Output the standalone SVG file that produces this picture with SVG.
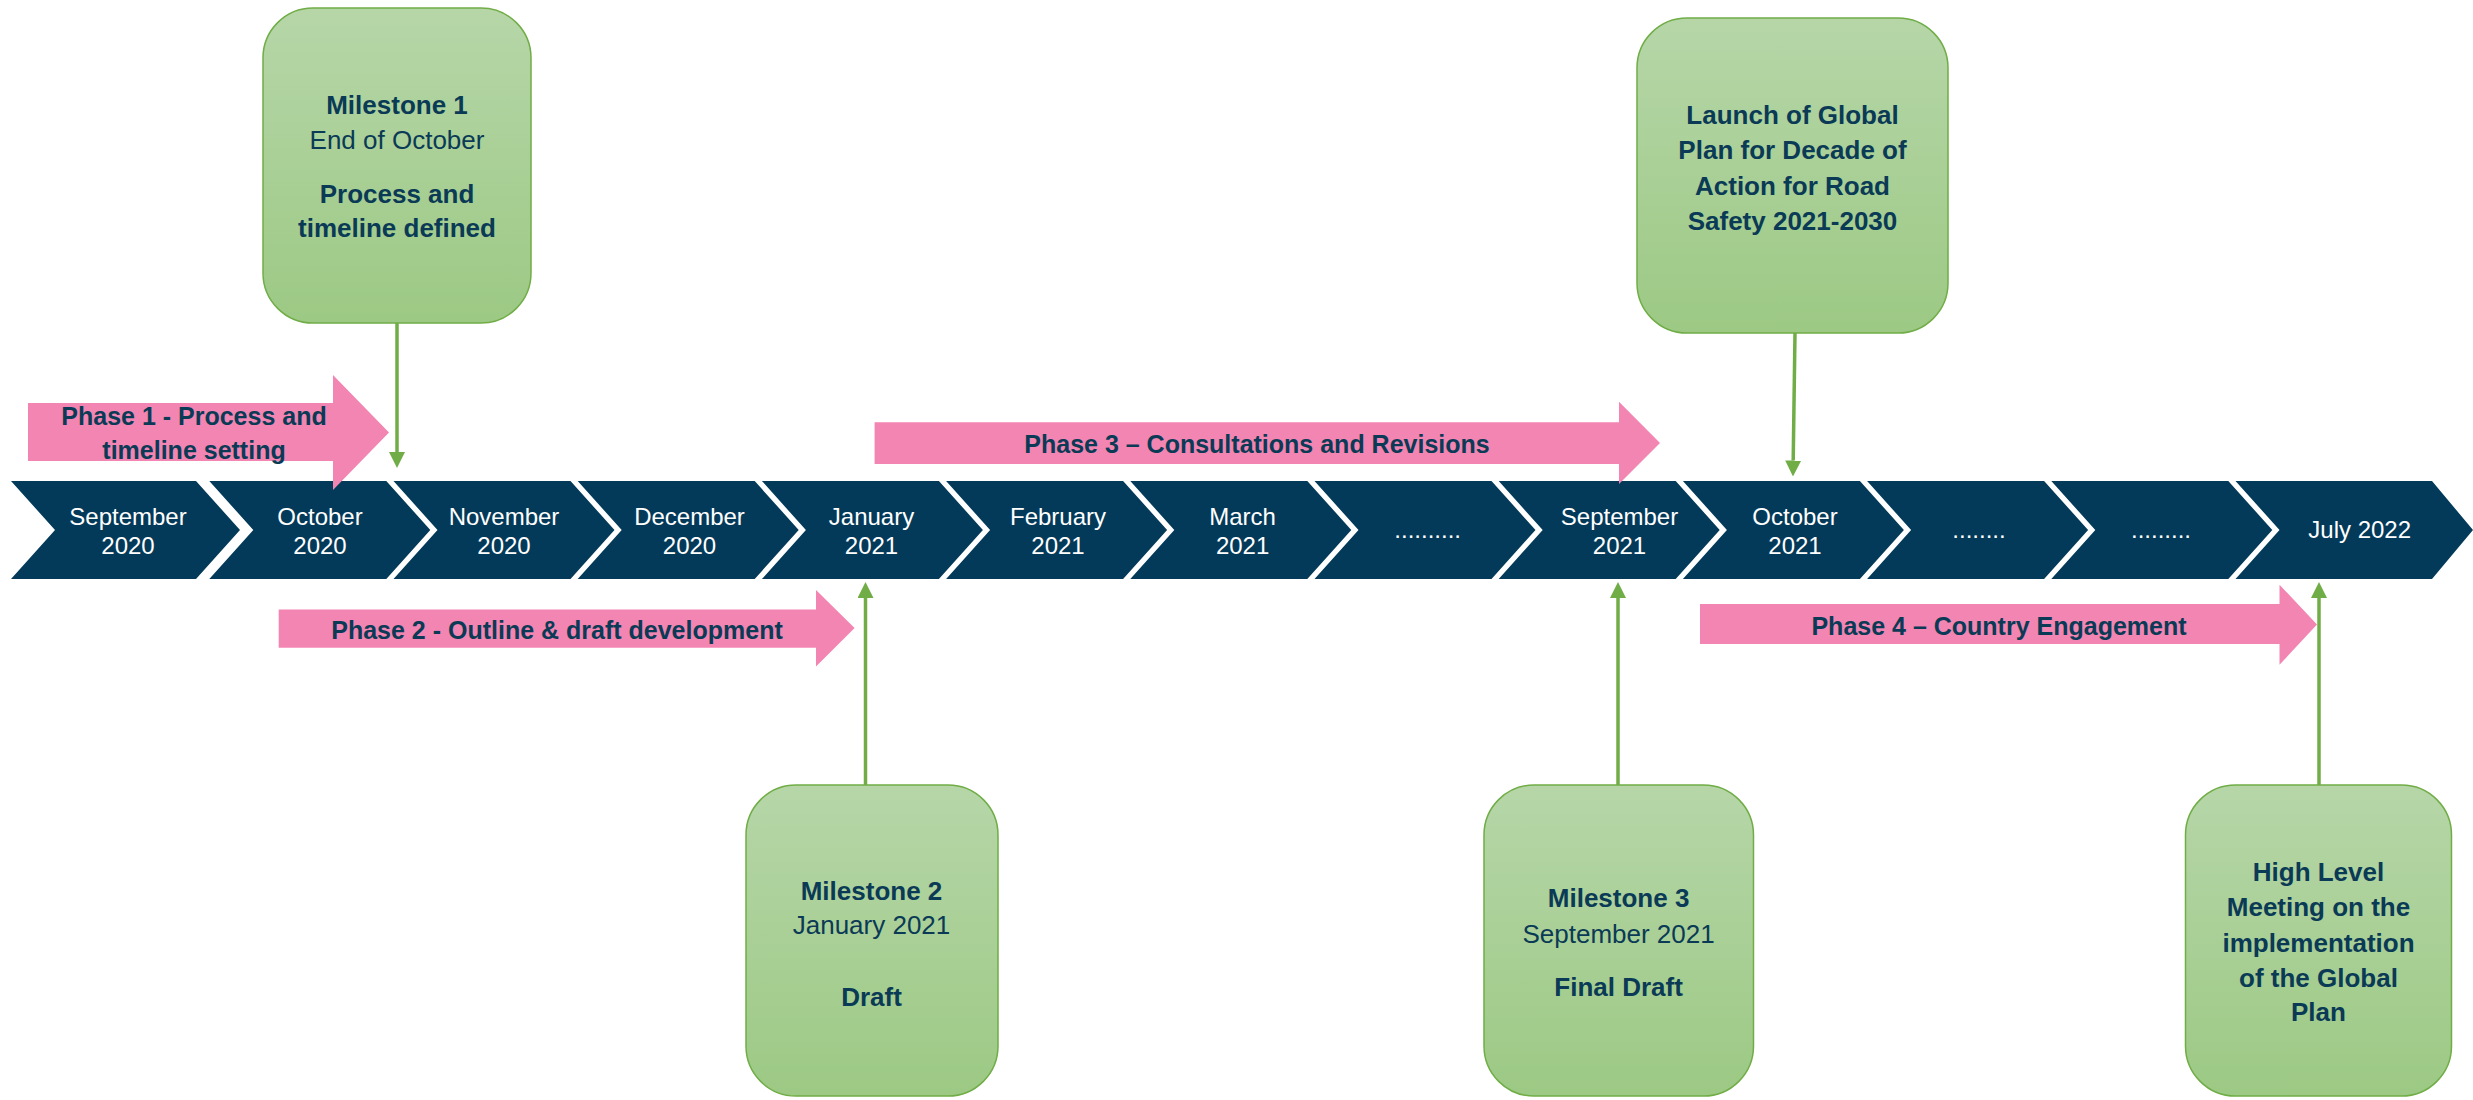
<svg xmlns="http://www.w3.org/2000/svg" width="2473" height="1100" viewBox="0 0 2473 1100">
<style>
.chev{fill:#033A59}
.mt{font-family:"Liberation Sans",Arial,sans-serif;font-size:24px;fill:#ffffff;text-anchor:middle}
.ph{fill:#F385B2}
.pt{font-family:"Liberation Sans",Arial,sans-serif;font-size:25px;font-weight:bold;fill:#0A3A55;text-anchor:middle}
.box{fill:url(#gg);stroke:#70AD47;stroke-width:1.5}
.bt{font-family:"Liberation Sans",Arial,sans-serif;font-size:26px;fill:#0A3A55;text-anchor:middle}
.b{font-weight:bold}
.con{stroke:#70AD47;stroke-width:3.5;fill:none;marker-end:url(#ah)}
</style>
<defs>
<linearGradient id="gg" x1="0" y1="0" x2="0" y2="1">
<stop offset="0" stop-color="#B6D6A8"/>
<stop offset="1" stop-color="#9CC984"/>
</linearGradient>
<marker id="ah" markerUnits="userSpaceOnUse" markerWidth="16" markerHeight="16" refX="0" refY="8" orient="auto">
<path d="M0,0 L16,8 L0,16 Z" fill="#70AD47"/>
</marker>
</defs>
<rect width="2473" height="1100" fill="#ffffff"/>

<g id="timeline">
<g id="m01"><polygon class="chev" points="11,481 196,481 240,530 196,579 11,579 55,530"/><text class="mt" x="128" y="525">September</text><text class="mt" x="128" y="554">2020</text></g>
<g id="m02"><polygon class="chev" points="209.3,481 386.3,481 430.3,530 386.3,579 209.3,579 253.3,530"/><text class="mt" x="320" y="525">October</text><text class="mt" x="320" y="554">2020</text></g>
<g id="m03"><polygon class="chev" points="393.5,481 570.5,481 614.5,530 570.5,579 393.5,579 437.5,530"/><text class="mt" x="504" y="525">November</text><text class="mt" x="504" y="554">2020</text></g>
<g id="m04"><polygon class="chev" points="577.7,481 754.7,481 798.7,530 754.7,579 577.7,579 621.7,530"/><text class="mt" x="689.5" y="525">December</text><text class="mt" x="689.5" y="554">2020</text></g>
<g id="m05"><polygon class="chev" points="761.9,481 938.9,481 982.9,530 938.9,579 761.9,579 805.9,530"/><text class="mt" x="871.5" y="525">January</text><text class="mt" x="871.5" y="554">2021</text></g>
<g id="m06"><polygon class="chev" points="946.1,481 1123.1,481 1167.1,530 1123.1,579 946.1,579 990.1,530"/><text class="mt" x="1058" y="525">February</text><text class="mt" x="1058" y="554">2021</text></g>
<g id="m07"><polygon class="chev" points="1130.3,481 1307.3,481 1351.3,530 1307.3,579 1130.3,579 1174.3,530"/><text class="mt" x="1242.6" y="525">March</text><text class="mt" x="1242.6" y="554">2021</text></g>
<g id="m08"><polygon class="chev" points="1314.5,481 1491.5,481 1535.5,530 1491.5,579 1314.5,579 1358.5,530"/><text class="mt" x="1427.7" y="538">..........</text></g>
<g id="m09"><polygon class="chev" points="1498.7,481 1675.7,481 1719.7,530 1675.7,579 1498.7,579 1542.7,530"/><text class="mt" x="1619.5" y="525">September</text><text class="mt" x="1619.5" y="554">2021</text></g>
<g id="m10"><polygon class="chev" points="1682.9,481 1859.9,481 1903.9,530 1859.9,579 1682.9,579 1726.9,530"/><text class="mt" x="1795" y="525">October</text><text class="mt" x="1795" y="554">2021</text></g>
<g id="m11"><polygon class="chev" points="1867.1,481 2044.1,481 2088.1,530 2044.1,579 1867.1,579 1911.1,530"/><text class="mt" x="1979" y="538">........</text></g>
<g id="m12"><polygon class="chev" points="2051.3,481 2228.3,481 2272.3,530 2228.3,579 2051.3,579 2095.3,530"/><text class="mt" x="2161" y="538">.........</text></g>
<g id="m13"><polygon class="chev" points="2235.5,481 2432,481 2473,530 2432,579 2235.5,579 2279.5,530"/><text class="mt" x="2359.7" y="538">July 2022</text></g>
</g>

<g id="phase1"><polygon class="ph" points="28,403 333,403 333,375 389,432.5 333,490 333,461 28,461"/><text class="pt" x="194" y="425">Phase 1 - Process and</text><text class="pt" x="194" y="459">timeline setting</text></g>
<g id="phase2"><polygon class="ph" points="278.7,609.6 816,609.6 816,590 854.6,628 816,666.4 816,647.8 278.7,647.8"/><text class="pt" x="557" y="638.6">Phase 2 - Outline &amp; draft development</text></g>
<g id="phase3"><polygon class="ph" points="874.6,422.3 1619,422.3 1619,401.7 1660,443 1619,484 1619,464 874.6,464"/><text class="pt" x="1257" y="453">Phase 3 – Consultations and Revisions</text></g>
<g id="phase4"><polygon class="ph" points="1700,604 2279.5,604 2279.5,584.7 2317,624.5 2279.5,664.8 2279.5,644 1700,644"/><text class="pt" x="1999" y="634.5">Phase 4 – Country Engagement</text></g>

<g id="milestone1"><rect class="box" x="263" y="8" width="268" height="315" rx="50" ry="50"/>
<text class="bt b" x="397" y="114">Milestone 1</text><text class="bt" x="397" y="148.5">End of October</text><text class="bt b" x="397" y="203">Process and</text><text class="bt b" x="397" y="237">timeline defined</text></g>
<g id="launch"><rect class="box" x="1637" y="18" width="311" height="315" rx="50" ry="50"/>
<text class="bt b" x="1792.5" y="124.4">Launch of Global</text><text class="bt b" x="1792.5" y="158.8">Plan for Decade of</text><text class="bt b" x="1792.5" y="195">Action for Road</text><text class="bt b" x="1792.5" y="229.6">Safety 2021-2030</text></g>
<g id="milestone2"><rect class="box" x="746" y="785" width="252" height="311" rx="50" ry="50"/>
<text class="bt b" x="871.5" y="900">Milestone 2</text><text class="bt" x="871.5" y="934">January 2021</text><text class="bt b" x="871.5" y="1005.6">Draft</text></g>
<g id="milestone3"><rect class="box" x="1484" y="785" width="269.5" height="311" rx="50" ry="50"/>
<text class="bt b" x="1618.6" y="907">Milestone 3</text><text class="bt" x="1618.6" y="943">September 2021</text><text class="bt b" x="1618.6" y="996.4">Final Draft</text></g>
<g id="highlevel"><rect class="box" x="2185.5" y="785" width="266" height="311" rx="50" ry="50"/>
<text class="bt b" x="2318.5" y="881">High Level</text><text class="bt b" x="2318.5" y="916.4">Meeting on the</text><text class="bt b" x="2318.5" y="951.7">implementation</text><text class="bt b" x="2318.5" y="987">of the Global</text><text class="bt b" x="2318.5" y="1021">Plan</text></g>

<g id="connectors">
<line class="con" x1="397" y1="323" x2="397" y2="452"/>
<line class="con" x1="1795" y1="333" x2="1793.2" y2="460.5"/>
<line class="con" x1="865.5" y1="785" x2="865.5" y2="598"/>
<line class="con" x1="1618" y1="785" x2="1618" y2="598"/>
<line class="con" x1="2319" y1="785" x2="2319" y2="598"/>
</g>
</svg>
